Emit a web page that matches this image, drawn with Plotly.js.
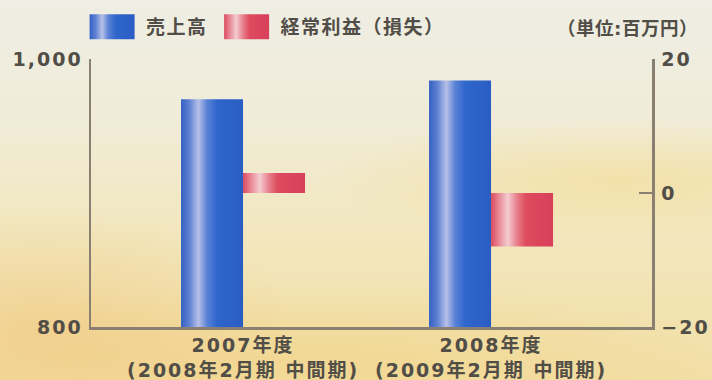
<!DOCTYPE html>
<html>
<head>
<meta charset="utf-8">
<script src="https://cdn.plot.ly/plotly-3.0.1.min.js"></script>
<style>
  html, body { margin: 0; padding: 0; }
  #chart {
    width: 712px; height: 380px;
    background:
      radial-gradient(ellipse 260px 120px at 40px 330px, rgba(240,190,110,0.45), rgba(240,190,110,0) 100%),
      radial-gradient(ellipse 300px 60px at 620px 180px, rgba(245,215,130,0.45), rgba(245,215,130,0) 100%),
      radial-gradient(ellipse 400px 80px at 330px 360px, rgba(242,205,120,0.45), rgba(242,205,120,0) 100%),
      linear-gradient(180deg, #efeee4 0%, #f0ecd9 30%, #f2e7bf 60%, #f2dfa6 100%);
  }
  text { letter-spacing: 2px; }
  .legendtext { letter-spacing: 1.5px; }
  .annotation-text { letter-spacing: 0.5px; }
</style>
</head>
<body>
<div id="chart"></div>
<script>
// ---- data ----
var categories = ['2007年度', '2008年度'];
var periods = ['(2008年2月期 中間期)', '(2009年2月期 中間期)'];
var salesName = '売上高';
var sales = [970, 984];
var profitName = '経常利益（損失）';
var profit = [3, -8];
var unitLabel = '（単位:百万円）';

// ---- chart ----
var blue = 'rgb(45,99,200)';
var red = 'rgb(222,72,94)';
var txt = '#514d47';
var axisCol = '#8a8072';
var fontFam = 'DejaVu Sans, Noto Sans CJK JP, sans-serif';

var xIdx = categories.map(function (c, i) { return i; });
var tickText = categories.map(function (c, i) { return c + '<br>' + periods[i]; });

function f(size) { return { family: fontFam, size: size, color: txt, weight: 'bold' }; }

var data = [
  {
    type: 'bar', name: salesName, x: xIdx, y: sales,
    width: 0.25, offset: -0.25,
    marker: { color: blue, line: { width: 0 } },
    xaxis: 'x', yaxis: 'y'
  },
  {
    type: 'bar', name: profitName, x: xIdx, y: profit,
    width: 0.25, offset: 0,
    marker: { color: red, line: { width: 0 } },
    xaxis: 'x', yaxis: 'y2'
  }
];

var layout = {
  width: 712, height: 380,
  margin: { l: 91, r: 60, t: 59, b: 53, autoexpand: false },
  paper_bgcolor: 'rgba(0,0,0,0)',
  plot_bgcolor: 'rgba(0,0,0,0)',
  font: f(19),
  barmode: 'overlay',
  showlegend: true,
  legend: {
    orientation: 'h', x: -0.023, xanchor: 'left', y: 1.12, yanchor: 'middle',
    bgcolor: 'rgba(0,0,0,0)', borderwidth: 0,
    font: f(19),
    itemwidth: 58, traceorder: 'normal'
  },
  xaxis: {
    type: 'linear', range: [-0.613, 1.649],
    tickvals: xIdx, ticktext: tickText,
    showline: true, linecolor: axisCol, linewidth: 2.5,
    ticks: '', showgrid: false, zeroline: false,
    tickfont: f(19)
  },
  yaxis: {
    range: [800, 1000], tickvals: [800, 1000], tickformat: ',d',
    showline: true, linecolor: axisCol, linewidth: 2.5,
    ticks: 'inside', ticklen: 13, tickwidth: 2.5, tickcolor: axisCol,
    showgrid: false, zeroline: false, ticklabelstandoff: 2,
    tickfont: f(19)
  },
  yaxis2: {
    overlaying: 'y', side: 'right',
    range: [-20, 20], tickvals: [-20, 0, 20],
    showline: true, linecolor: axisCol, linewidth: 2.5,
    ticks: 'inside', ticklen: 13, tickwidth: 2.5, tickcolor: axisCol,
    showgrid: false, zeroline: false, ticklabelstandoff: 3,
    tickfont: f(19)
  },
  annotations: [{
    text: unitLabel, xref: 'paper', yref: 'paper',
    x: 1.085, y: 1.115, xanchor: 'right', yanchor: 'middle',
    showarrow: false, font: f(18.5)
  }]
};

var gd = document.getElementById('chart');
Plotly.newPlot(gd, data, layout, { staticPlot: true, displayModeBar: false }).then(function () {
  var ns = 'http://www.w3.org/2000/svg';
  var svg = gd.querySelector('svg.main-svg');
  var defs = svg.querySelector('defs');
  if (!defs) { defs = document.createElementNS(ns, 'defs'); svg.insertBefore(defs, svg.firstChild); }
  function grad(id, stops) {
    var lg = document.createElementNS(ns, 'linearGradient');
    lg.setAttribute('id', id);
    lg.setAttribute('x1', '0'); lg.setAttribute('x2', '1');
    lg.setAttribute('y1', '0'); lg.setAttribute('y2', '0');
    stops.forEach(function (s) {
      var st = document.createElementNS(ns, 'stop');
      st.setAttribute('offset', s[0]); st.setAttribute('stop-color', s[1]);
      lg.appendChild(st);
    });
    defs.appendChild(lg);
  }
  grad('gBlue', [['0', '#3461c3'], ['0.13', '#5d80d2'], ['0.28', '#b6c0e8'], ['0.42', '#5a82d6'], ['0.58', '#2e66cc'], ['1', '#2a5dc3']]);
  grad('gRed', [['0', '#dc4a60'], ['0.12', '#e78592'], ['0.27', '#f3cdd1'], ['0.41', '#e8838f'], ['0.56', '#de4b5f'], ['1', '#d8405a']]);
  var norm = function (s) { return (s || '').replace(/\s/g, ''); };
  gd.querySelectorAll('.barlayer .point path, .legend .legendpoints path').forEach(function (p) {
    var fl = norm(p.style.fill);
    if (fl === norm(blue)) p.style.fill = 'url(#gBlue)';
    else if (fl === norm(red)) p.style.fill = 'url(#gRed)';
  });
  gd.querySelectorAll('.legend .legendpoints path').forEach(function (p) {
    p.setAttribute('d', 'M22.5,12.5H-22.5V-12.5H22.5Z');
  });
});
</script>
</body>
</html>
